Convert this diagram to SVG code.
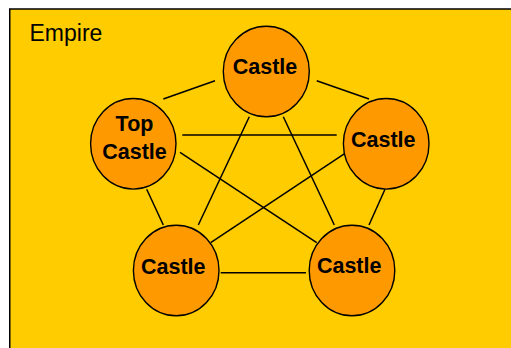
<svg xmlns="http://www.w3.org/2000/svg" width="511" height="348" viewBox="0 0 511 348">
  <style>
    .frame { fill: #FFCC00; stroke: #000; stroke-width: 1.5; }
    .castle { fill: #FF9900; stroke: #000; stroke-width: 1.4; }
    .label { font-family: "Liberation Sans", Arial, sans-serif; font-weight: bold; font-size: 21.5px; fill: #000; text-anchor: middle; }
    .title { font-family: "Liberation Sans", Arial, sans-serif; font-size: 23px; fill: #000; }
    .link { stroke: #000; stroke-width: 1.5; fill: none; }
  </style>
  <rect width="511" height="348" fill="#FFFFFF"/>
  <rect class="frame" x="9.75" y="9" width="510" height="350"/>
  <text class="title" x="29.5" y="40.5">Empire</text>

  <g id="connectors">
    <line class="link" x1="215" y1="80.7" x2="163.3" y2="99"/>
    <line class="link" x1="316.7" y1="80.7" x2="369" y2="99"/>
    <line class="link" x1="182.3" y1="135" x2="336.7" y2="135"/>
    <line class="link" x1="180" y1="152.3" x2="316.7" y2="242.7"/>
    <line class="link" x1="345" y1="153.3" x2="210.7" y2="242.7"/>
    <line class="link" x1="249.3" y1="116.7" x2="198.3" y2="225"/>
    <line class="link" x1="283.3" y1="116.7" x2="334.3" y2="225"/>
    <line class="link" x1="146.7" y1="189.3" x2="163.3" y2="225"/>
    <line class="link" x1="385" y1="189.3" x2="369" y2="225"/>
    <line class="link" x1="220.7" y1="272.7" x2="306" y2="272.7"/>
  </g>

  <g id="castle-top">
    <ellipse class="castle" cx="266.3" cy="71.5" rx="43" ry="45.3"/>
    <text class="label" x="265" y="74">Castle</text>
  </g>
  <g id="castle-top-left">
    <ellipse class="castle" cx="133.3" cy="143.8" rx="42.7" ry="45.3"/>
    <text class="label" x="134.5" y="130.5">Top</text>
    <text class="label" x="134.5" y="158.5">Castle</text>
  </g>
  <g id="castle-right">
    <ellipse class="castle" cx="386.2" cy="143.8" rx="42.8" ry="45.3"/>
    <text class="label" x="383.3" y="146.7">Castle</text>
  </g>
  <g id="castle-bottom-left">
    <ellipse class="castle" cx="176.2" cy="270.5" rx="42.8" ry="45.3"/>
    <text class="label" x="173.3" y="274">Castle</text>
  </g>
  <g id="castle-bottom-right">
    <ellipse class="castle" cx="352" cy="270.5" rx="42.8" ry="45.3"/>
    <text class="label" x="349.2" y="273">Castle</text>
  </g>
</svg>
